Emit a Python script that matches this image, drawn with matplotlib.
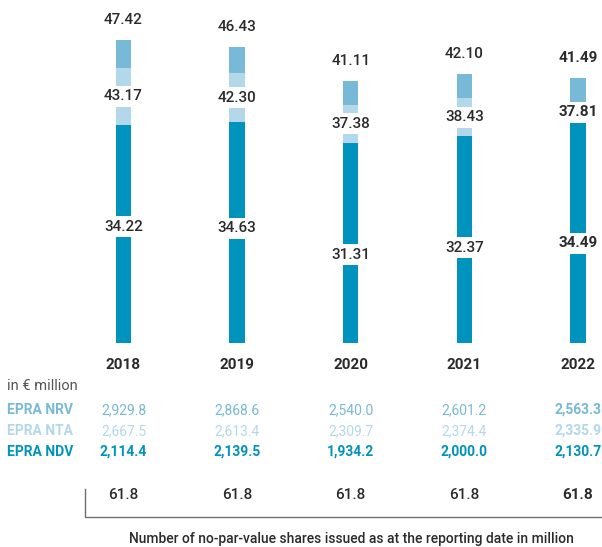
import numpy as np
import matplotlib
matplotlib.use("Agg")
import matplotlib.pyplot as plt

# ---- data ------------------------------------------------------------
years = ["2018", "2019", "2020", "2021", "2022"]
ndv_ps = [34.22, 34.63, 31.31, 32.37, 34.49]   # EPRA NDV per share
nta_ps = [43.17, 42.30, 37.38, 38.43, 37.81]   # EPRA NTA per share
nrv_ps = [47.42, 46.43, 41.11, 42.10, 41.49]   # EPRA NRV per share
nrv_mn = ["2,929.8", "2,868.6", "2,540.0", "2,601.2", "2,563.3"]
nta_mn = ["2,667.5", "2,613.4", "2,309.7", "2,374.4", "2,335.9"]
ndv_mn = ["2,114.4", "2,139.5", "1,934.2", "2,000.0", "2,130.7"]
shares = ["61.8", "61.8", "61.8", "61.8", "61.8"]

# ---- style -----------------------------------------------------------
c_ndv = "#0093bd"
c_nta = "#b3d8e9"
c_nrv = "#77b9d6"
c_txt = "#2b2b2b"
plt.rcParams["font.family"] = ["Roboto", "DejaVu Sans"]
fs = 10

W, H = 602, 547
base_px, scale = 343.0, 6.38     # baseline pixel row, pixels per unit
x0_px, step_px = 123.5, 113.6    # first bar centre, bar spacing


def yv(p):  # pixel row -> data value
    return (base_px - p) / scale


def xv(p):  # pixel column -> data x
    return (p - x0_px) / step_px


fig = plt.figure(figsize=(W / 100, H / 100), dpi=100)
ax = fig.add_axes([0, 0, 1, 1])
ax.set_xlim(xv(0), xv(W))
ax.set_ylim(yv(H), yv(0))
ax.axis("off")

x = np.arange(len(years))
ndv = np.array(ndv_ps)
nta = np.array(nta_ps)
nrv = np.array(nrv_ps)
bw = 15.5 / step_px

ax.bar(x, ndv, width=bw, color=c_ndv, zorder=1)
ax.bar(x, nta - ndv, bottom=ndv, width=bw, color=c_nta, zorder=1)
ax.bar(x, nrv - nta, bottom=nta, width=bw, color=c_nrv, zorder=1)

# white gaps carrying the labels
gap = 21 / scale
nta_lab = (ndv + nta) / 2
ndv_lab = nta_lab - 20.5
for pos in (nta_lab, ndv_lab):
    ax.bar(x, gap, bottom=pos - gap / 2, width=bw * 1.6, color="white", zorder=2)

last = len(years) - 1
for i in range(len(years)):
    w = "bold" if i == last else "medium"
    kw = dict(ha="center", va="center", fontsize=fs + 1, color=c_txt,
              fontweight=w, zorder=3)
    ax.text(x[i], nrv[i] + 20 / scale, f"{nrv[i]:.2f}", **kw)
    ax.text(x[i], nta_lab[i], f"{nta[i]:.2f}", **kw)
    ax.text(x[i], ndv_lab[i], f"{ndv[i]:.2f}", **kw)
    ax.text(x[i], yv(365), years[i], ha="center", va="center", fontsize=fs + 1,
            color=c_txt, fontweight="bold")
    ax.text(x[i], yv(410), nrv_mn[i], ha="center", va="center",
            fontsize=fs, color=c_nrv, fontweight="bold" if i == last else "normal")
    ax.text(x[i], yv(431), nta_mn[i], ha="center", va="center",
            fontsize=fs, color=c_nta, fontweight="bold" if i == last else "normal")
    ax.text(x[i], yv(452), ndv_mn[i], ha="center", va="center",
            fontsize=fs, color=c_ndv, fontweight="bold")
    ax.text(x[i], yv(495), shares[i], ha="center", va="center",
            fontsize=fs + 1, color=c_txt, fontweight=w)

# row headers
ax.text(xv(7), yv(386), "in € million", ha="left", va="center",
        fontsize=fs + 0.5, color="#555555")
ax.text(xv(7), yv(410), "EPRA NRV", ha="left", va="center",
        fontsize=fs, color=c_nrv, fontweight="bold")
ax.text(xv(7), yv(431), "EPRA NTA", ha="left", va="center",
        fontsize=fs, color=c_nta, fontweight="bold")
ax.text(xv(7), yv(452), "EPRA NDV", ha="left", va="center",
        fontsize=fs, color=c_ndv, fontweight="bold")

# bracket line under the share count
ax.plot([xv(85), xv(85), xv(W)], [yv(489), yv(517), yv(517)],
        color="#6e6e6e", lw=1.0, solid_joinstyle="miter")
ax.text(xv(351), yv(539),
        "Number of no-par-value shares issued as at the reporting date in million",
        ha="center", va="center", fontsize=fs, color=c_txt, fontweight="medium")

fig.savefig("out.png", dpi=100)
